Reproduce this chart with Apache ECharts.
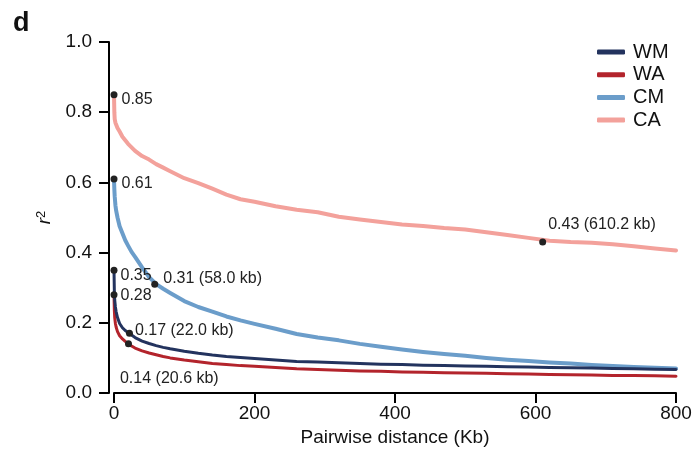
<!DOCTYPE html>
<html>
<head>
<meta charset="utf-8">
<script src="https://cdn.jsdelivr.net/npm/echarts@6/dist/echarts.min.js"></script>
<style>html,body{margin:0;padding:0;background:#fff;}#c{width:695px;height:464px;}</style>
</head>
<body>
<div id="c"></div>
<script>
// ---- data ----
var distKb = [0, 0.5, 1, 2, 3, 5, 8, 12, 16, 20, 25, 30, 40, 50, 60, 70, 80, 100, 120, 140, 160, 180, 200, 230, 260, 290, 320, 350, 380, 410, 440, 470, 500, 530, 560, 590, 620, 650, 680, 710, 740, 770, 800];
var seriesNames = ['WM', 'WA', 'CM', 'CA'];
var WM = [0.35, 0.29, 0.265, 0.245, 0.232, 0.215, 0.198, 0.186, 0.178, 0.172, 0.165, 0.158, 0.148, 0.141, 0.135, 0.130, 0.126, 0.119, 0.113, 0.108, 0.104, 0.101, 0.098, 0.094, 0.090, 0.088, 0.086, 0.084, 0.082, 0.081, 0.079, 0.078, 0.077, 0.076, 0.075, 0.074, 0.073, 0.072, 0.071, 0.070, 0.069, 0.068, 0.067];
var WA = [0.28, 0.235, 0.215, 0.198, 0.188, 0.175, 0.163, 0.154, 0.147, 0.141, 0.134, 0.128, 0.120, 0.114, 0.109, 0.104, 0.100, 0.094, 0.089, 0.084, 0.081, 0.078, 0.076, 0.073, 0.069, 0.067, 0.065, 0.063, 0.062, 0.060, 0.059, 0.058, 0.057, 0.056, 0.055, 0.054, 0.053, 0.052, 0.051, 0.050, 0.050, 0.049, 0.048];
var CM = [0.61, 0.58, 0.56, 0.535, 0.52, 0.50, 0.475, 0.455, 0.435, 0.42, 0.402, 0.388, 0.358, 0.330, 0.310, 0.297, 0.285, 0.262, 0.245, 0.232, 0.218, 0.207, 0.197, 0.183, 0.168, 0.158, 0.150, 0.140, 0.132, 0.124, 0.117, 0.111, 0.106, 0.100, 0.095, 0.091, 0.087, 0.084, 0.080, 0.077, 0.074, 0.072, 0.070];
var CA = [0.85, 0.80, 0.78, 0.77, 0.765, 0.755, 0.745, 0.73, 0.72, 0.71, 0.70, 0.69, 0.675, 0.665, 0.652, 0.642, 0.632, 0.612, 0.598, 0.582, 0.565, 0.552, 0.545, 0.532, 0.522, 0.515, 0.502, 0.494, 0.487, 0.480, 0.476, 0.470, 0.466, 0.458, 0.450, 0.442, 0.434, 0.430, 0.428, 0.424, 0.418, 0.412, 0.406];
// annotated points
var markX = [0, 0, 0, 0, 58.0, 22.0, 20.6, 610.2];
var markY = [0.85, 0.61, 0.35, 0.28, 0.31, 0.17, 0.14, 0.43];
var markText = ['0.85', '0.61', '0.35', '0.28', '0.31 (58.0 kb)', '0.17 (22.0 kb)', '0.14 (20.6 kb)', '0.43 (610.2 kb)'];
var xTicks = [0, 200, 400, 600, 800];
var yTicks = [0.0, 0.2, 0.4, 0.6, 0.8, 1.0];

// ---- styles ----
var colors = {WM: '#23335e', WA: '#b3242c', CM: '#6b9dca', CA: '#f3a19b'};
var widths = {WM: 3, WA: 3, CM: 4, CA: 4};
var labelOffsets = [[-1, 5], [-1, 5], [-2, 5], [-2, 1], [0, -6], [-3, -3], [-17, 35], [-3, -17]];

var chart = echarts.init(document.getElementById('c'), null, {renderer: 'canvas'});
var lineSeries = seriesNames.map(function (n) {
  var vals = {WM: WM, WA: WA, CM: CM, CA: CA}[n];
  return {
    name: n, type: 'line', showSymbol: false, smooth: false,
    data: distKb.map(function (d, i) { return [d, vals[i]]; }),
    lineStyle: {color: colors[n], width: widths[n], cap: 'round', join: 'round'},
    itemStyle: {color: colors[n]},
    z: 2
  };
});
lineSeries.reverse();
var fontFam = 'Liberation Sans, Arial, sans-serif';
var scatter = {
  type: 'scatter', symbolSize: 7, z: 5,
  itemStyle: {color: '#222', opacity: 1},
  data: markX.map(function (x, i) {
    return {
      value: [x, markY[i]],
      label: {show: true, formatter: markText[i], position: 'right', offset: labelOffsets[i],
              color: '#222', fontSize: 16, fontFamily: fontFam}
    };
  })
};

chart.setOption({
  animation: false,
  backgroundColor: '#fff',
  title: {text: 'd', left: 8, top: 5, textStyle: {fontSize: 27, fontWeight: 'bold', color: '#111', fontFamily: fontFam}},
  grid: {left: 114, right: 19, top: 42, bottom: 71},
  legend: {
    orient: 'vertical', left: 592, top: 37, itemWidth: 28, itemHeight: 5, itemGap: 2.7,
    icon: 'roundRect',
    data: seriesNames,
    textStyle: {fontSize: 20, color: '#111', fontFamily: fontFam, lineHeight: 20, padding: [0, 0, 0, 3]}
  },
  xAxis: {
    type: 'value', min: 0, max: 800, interval: 200,
    name: 'Pairwise distance (Kb)', nameLocation: 'middle', nameGap: 35,
    nameTextStyle: {fontSize: 19, color: '#111', fontFamily: fontFam},
    axisLine: {show: true, onZero: false, lineStyle: {color: '#000', width: 2}},
    axisTick: {show: true, length: 10, lineStyle: {color: '#000', width: 2}},
    axisLabel: {fontSize: 19, color: '#111', margin: 11, fontFamily: fontFam,
      formatter: function (v) { return xTicks.indexOf(v) >= 0 ? String(v) : ''; }},
    splitLine: {show: false}
  },
  yAxis: {
    type: 'value', min: 0, max: 1, interval: 0.2, offset: 5,
    name: '{i|r}{s|2}', nameLocation: 'middle', nameGap: 54, nameRotate: 90,
    nameTextStyle: {rich: {i: {fontSize: 19, fontStyle: 'italic', color: '#111', fontFamily: fontFam},
                           s: {fontSize: 13, color: '#111', verticalAlign: 'top', fontFamily: fontFam, padding: [0, 0, 7, 0]}}},
    axisLine: {show: true, onZero: false, lineStyle: {color: '#000', width: 2}},
    axisTick: {show: true, length: 10, lineStyle: {color: '#000', width: 2}},
    axisLabel: {fontSize: 19, color: '#111', margin: 17, fontFamily: fontFam,
      formatter: function (v) { return yTicks.some(function (t) { return Math.abs(t - v) < 1e-9; }) ? v.toFixed(1) : ''; }},
    splitLine: {show: false}
  },
  series: lineSeries.concat([scatter])
});
</script>
</body>
</html>
